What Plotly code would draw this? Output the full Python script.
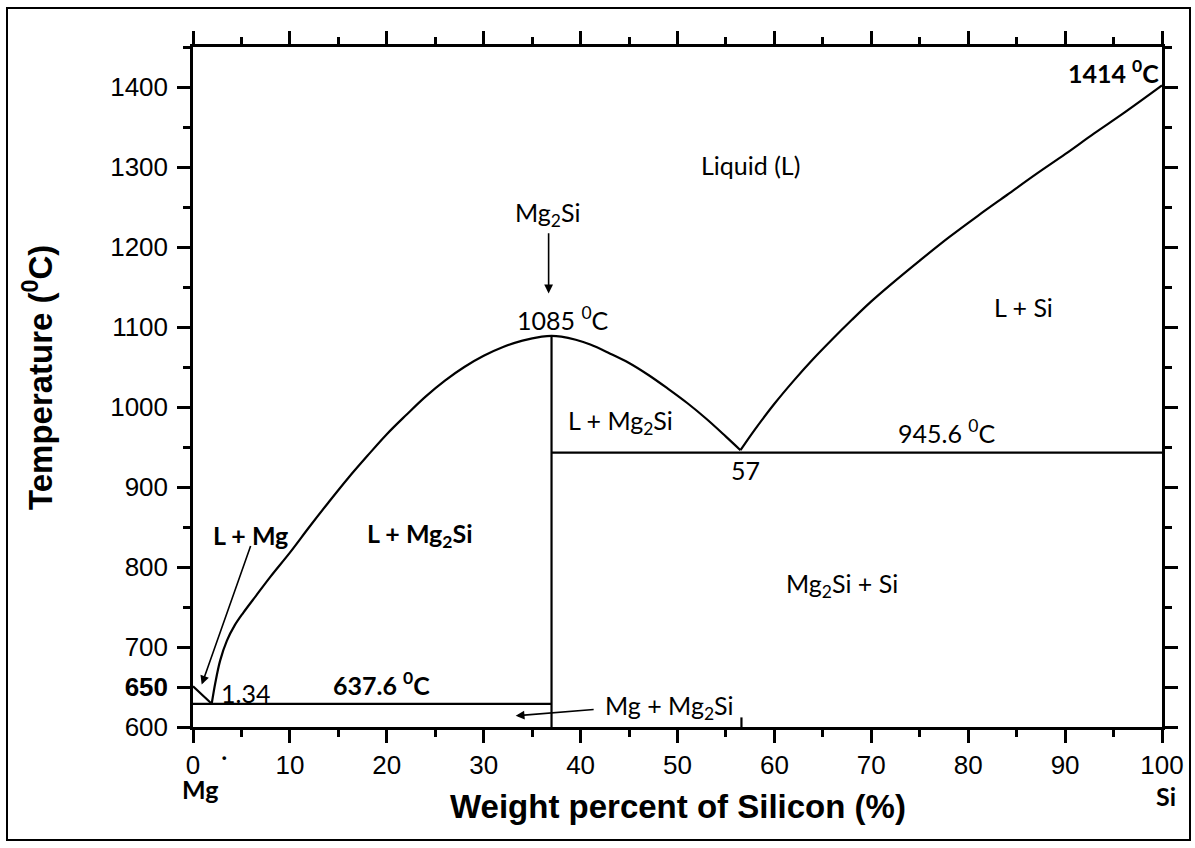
import plotly.graph_objects as go

# ---- data (wt% Si, temperature in C) ----
mg_side_x = [0.0, 1.93]
mg_side_t = [651, 629]

liq_left_x = [1.93, 2.3, 2.8, 3.5, 4.3, 5.2, 6.5, 8.0, 10, 12, 14, 16, 18, 20, 22, 24, 26, 28, 30, 32,
              34, 36, 37,
              38, 39.5, 41, 43, 45, 47, 49, 51, 53, 55, 56.5]
liq_left_t = [629, 655, 683, 708, 727, 743, 764, 788, 818, 850, 881, 911, 939, 966, 990, 1013, 1033, 1050,
              1064, 1075, 1083, 1088, 1089,
              1088, 1084, 1078, 1067, 1055, 1040, 1023, 1005, 985, 963, 946]

liq_right_x = [56.5, 58, 60, 62, 64, 66, 68, 70, 72, 75, 78, 81, 84, 87, 90, 93, 96, 100]
liq_right_t = [946, 972, 1004, 1033, 1060, 1085, 1109, 1132, 1153, 1183, 1212, 1239, 1265, 1291, 1316,
               1342, 1367, 1402]

mg2si_x = [37.0, 37.0]
mg2si_t = [1089, 600]

eut_low_x = [0.0, 37.0]
eut_low_t = [629, 629]

eut_high_x = [37.0, 100.0]
eut_high_t = [943, 943]

mark57_x = [56.6, 56.6]
mark57_t = [600, 612]

x_ticks = [0, 10, 20, 30, 40, 50, 60, 70, 80, 90, 100]
y_ticks = [600, 650, 700, 800, 900, 1000, 1100, 1200, 1300, 1400]
y_ticktext = ["600", "<b>650</b>", "700", "800", "900", "1000", "1100", "1200", "1300", "1400"]

# in-plot labels: (text, x, T, bold)
labels = [
    ("Liquid (L)", 57.5, 1302, False),
    ("Mg<sub>2</sub>Si", 36.6, 1241, False),
    ("1085 <sup>0</sup>C", 38.2, 1111, False),
    ("L + Mg<sub>2</sub>Si", 44.1, 981, False),
    ("57", 57.0, 921, False),
    ("945.6 <sup>0</sup>C", 77.8, 969, False),
    ("L + Si", 85.7, 1125, False),
    ("1414 <sup>0</sup>C", 95.0, 1419, True),
    ("L + Mg", 5.98, 840, True),
    ("L + Mg<sub>2</sub>Si", 23.4, 840, True),
    ("Mg<sub>2</sub>Si + Si", 67.0, 777, False),
    ("1.34", 5.45, 642, False),
    ("637.6 <sup>0</sup>C", 19.5, 655, True),
    ("Mg + Mg<sub>2</sub>Si", 49.2, 625, False),
]

# labels below the axis (paper coordinates): (text, x, y, bold)
outer_labels = [
    ("Mg", 0.0072, -0.091, True),
    ("Si", 1.004, -0.101, True),
    ("·", 0.032, -0.043, False),
]

# arrows: (tail x, tail T, head x, head T)
arrows = [
    (36.7, 1219, 36.7, 1142),
    (6.0, 828, 0.9, 653),
    (41.5, 622, 33.3, 614),
]

fig = go.Figure()
for xs, ts, shape in [
    (mg_side_x, mg_side_t, "linear"),
    (liq_left_x, liq_left_t, "spline"),
    (liq_right_x, liq_right_t, "spline"),
    (mg2si_x, mg2si_t, "linear"),
    (eut_low_x, eut_low_t, "linear"),
    (eut_high_x, eut_high_t, "linear"),
    (mark57_x, mark57_t, "linear"),
]:
    fig.add_trace(go.Scatter(x=xs, y=ts, mode="lines",
                             line=dict(color="black", width=2.2, shape=shape, smoothing=1.0),
                             hoverinfo="skip", showlegend=False))

ann_font = "Lato, 'Open Sans', sans-serif"
for text, x, t, bold in labels:
    fig.add_annotation(x=x, y=t, xref="x", yref="y", text=text, showarrow=False,
                       xanchor="center", yanchor="middle",
                       font=dict(family=ann_font, size=25, color="black",
                                 weight="bold" if bold else "normal"))

for text, x, y, bold in outer_labels:
    fig.add_annotation(x=x, y=y, xref="paper", yref="paper", text=text, showarrow=False,
                       xanchor="center", yanchor="middle",
                       font=dict(family=ann_font, size=25, color="black",
                                 weight="bold" if bold else "normal"))

for tx, tt, hx, ht in arrows:
    fig.add_annotation(x=hx, y=ht, ax=tx, ay=tt, xref="x", yref="y", axref="x", ayref="y",
                       text="", showarrow=True, arrowhead=2, arrowsize=1.1, arrowwidth=1.6,
                       arrowcolor="black", standoff=0, startstandoff=0)

# axis titles
fig.add_annotation(x=0.5, y=(727 - 806) / 680, xref="paper", yref="paper",
                   xanchor="center", yanchor="middle",
                   text="<b>Weight percent of Silicon (%)</b>", showarrow=False,
                   font=dict(family="Liberation Sans, Arial", size=33, color="black"))
fig.add_annotation(x=(38 - 193) / 969, y=(727 - 378) / 680, xref="paper", yref="paper",
                   xanchor="center", yanchor="middle",
                   text="<b>Temperature (<sup>0</sup>C)</b>", showarrow=False, textangle=-90,
                   font=dict(family="Liberation Sans, Arial", size=33, color="black"))

# outer frame
fig.add_shape(type="rect", xref="paper", yref="paper",
              x0=(7 - 193) / 969, x1=(1190 - 193) / 969,
              y0=(727 - 840) / 680, y1=(727 - 8) / 680,
              line=dict(color="black", width=2))

axis_common = dict(showgrid=False, zeroline=False, showline=True, linecolor="black",
                   linewidth=2.5, ticks="outside", ticklen=13, tickwidth=2.5, tickcolor="black",
                   mirror="ticks",
                   tickfont=dict(family="Liberation Sans, Arial", size=26, color="black"))

fig.update_xaxes(range=[0, 100], tickmode="array", tickvals=x_ticks,
                 ticklabelstandoff=0,
                 minor=dict(dtick=5, tick0=0, ticks="outside", ticklen=7, tickwidth=2.5,
                            tickcolor="black", showgrid=False),
                 **axis_common)
fig.update_yaxes(range=[600, 1450], tickmode="array", tickvals=y_ticks, ticktext=y_ticktext,
                 ticklabelstandoff=4,
                 minor=dict(dtick=50, tick0=600, ticks="outside", ticklen=7, tickwidth=2.5,
                            tickcolor="black", showgrid=False),
                 **axis_common)

fig.update_layout(width=1195, height=848, paper_bgcolor="white", plot_bgcolor="white",
                  margin=dict(l=193, r=33, t=47, b=121, autoexpand=False),
                  showlegend=False)

fig.write_html("out.html", config={"displayModeBar": False},
               post_script="document.body.style.margin='0px';document.body.style.overflow='hidden';")
